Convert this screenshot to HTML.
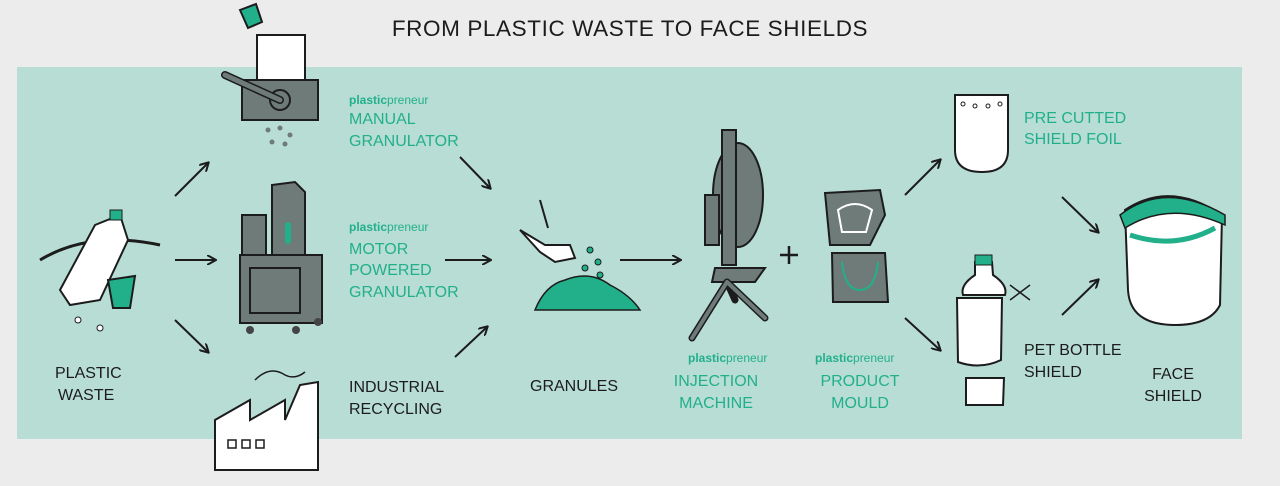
<!DOCTYPE html>
<html><head><meta charset="utf-8"><style>
html,body{margin:0;padding:0;background:#ececec;}
svg{display:block}
text{font-family:"Liberation Sans",sans-serif;}
.k{fill:#1c1c1c;font-size:16px}
.g{fill:#22b08a;font-size:16px}
.s{fill:#22b08a;font-size:12px}
</style></head><body>
<svg width="1280" height="486" viewBox="0 0 1280 486" xmlns="http://www.w3.org/2000/svg">
<defs><marker id="a" markerWidth="10" markerHeight="10" refX="8" refY="5" orient="auto" markerUnits="userSpaceOnUse"><path d="M0,0 L9,5 L0,10" fill="none" stroke="#1c1c1c" stroke-width="2"/></marker></defs>
<rect x="0" y="0" width="1280" height="486" fill="#ececec"/>
<rect x="17" y="67" width="1225" height="372" fill="#b8ddd5"/>
<text x="630" y="36" text-anchor="middle" style="font-size:22.5px;fill:#1c1c1c;letter-spacing:0.6px">FROM PLASTIC WASTE TO FACE SHIELDS</text>
<g stroke="#1c1c1c" stroke-width="2" fill="none" marker-end="url(#a)">
<line x1="175" y1="196" x2="208" y2="163"/><line x1="175" y1="260" x2="215" y2="260"/><line x1="175" y1="320" x2="208" y2="352"/>
<line x1="460" y1="157" x2="490" y2="188"/><line x1="445" y1="260" x2="490" y2="260"/><line x1="455" y1="357" x2="487" y2="327"/>
<line x1="620" y1="260" x2="680" y2="260"/>
<line x1="905" y1="195" x2="940" y2="160"/><line x1="905" y1="318" x2="940" y2="350"/>
<line x1="1062" y1="197" x2="1098" y2="232"/><line x1="1062" y1="315" x2="1098" y2="280"/>
</g>
<path d="M780,255 h18 M789,246 v18" stroke="#1c1c1c" stroke-width="2.5"/>
<path d="M40,260 Q90,230 160,245" stroke="#1c1c1c" stroke-width="3" fill="none"/>
<path d="M95,225 L120,215 L128,240 L100,300 L70,305 L60,290 Z" fill="#fff" stroke="#1c1c1c" stroke-width="2"/>
<rect x="110" y="210" width="12" height="10" fill="#22b08a" stroke="#1c1c1c"/>
<path d="M108,280 L135,276 L130,308 L113,308 Z" fill="#22b08a" stroke="#1c1c1c" stroke-width="2"/>
<circle cx="78" cy="320" r="3" fill="#fff" stroke="#1c1c1c"/><circle cx="100" cy="328" r="3" fill="#fff" stroke="#1c1c1c"/>
<path d="M240,10 L256,4 L262,22 L248,28 Z" fill="#22b08a" stroke="#1c1c1c" stroke-width="2"/>
<rect x="257" y="35" width="48" height="46" fill="#fff" stroke="#1c1c1c" stroke-width="2"/>
<rect x="242" y="80" width="76" height="40" fill="#6e7b78" stroke="#1c1c1c" stroke-width="2"/>
<circle cx="280" cy="100" r="10" fill="#6e7b78" stroke="#1c1c1c" stroke-width="2"/>
<path d="M225,75 L280,100" stroke="#1c1c1c" stroke-width="8" stroke-linecap="round"/><path d="M225,75 L280,100" stroke="#6e7b78" stroke-width="5" stroke-linecap="round"/>
<g fill="#6e7b78"><circle cx="268" cy="130" r="2.5"/><circle cx="280" cy="128" r="2.5"/><circle cx="290" cy="135" r="2.5"/><circle cx="272" cy="142" r="2.5"/><circle cx="285" cy="144" r="2.5"/></g>
<rect x="242" y="215" width="24" height="45" fill="#6e7b78" stroke="#1c1c1c" stroke-width="2"/>
<path d="M272,185 L295,182 L305,192 L305,260 L272,260 Z" fill="#6e7b78" stroke="#1c1c1c" stroke-width="2"/>
<rect x="285" y="222" width="6" height="22" rx="3" fill="#22b08a"/>
<rect x="240" y="255" width="82" height="68" fill="#6e7b78" stroke="#1c1c1c" stroke-width="2"/>
<rect x="250" y="268" width="50" height="45" fill="#6e7b78" stroke="#1c1c1c" stroke-width="2"/>
<g fill="#444"><circle cx="250" cy="330" r="4"/><circle cx="296" cy="330" r="4"/><circle cx="318" cy="322" r="4"/></g>
<path d="M215,470 L215,420 L250,400 L250,420 L285,400 L285,420 L300,385 L318,382 L318,470 Z" fill="#fff" stroke="#1c1c1c" stroke-width="2"/>
<path d="M255,380 Q270,365 285,375 Q295,380 305,372" stroke="#1c1c1c" stroke-width="1.5" fill="none"/>
<g fill="none" stroke="#1c1c1c" stroke-width="1.5"><rect x="228" y="440" width="8" height="8"/><rect x="242" y="440" width="8" height="8"/><rect x="256" y="440" width="8" height="8"/></g>
<path d="M520,230 L545,245 L570,245 L575,258 L555,262 L540,252 Z" fill="#fff" stroke="#1c1c1c" stroke-width="2"/>
<line x1="540" y1="200" x2="548" y2="228" stroke="#1c1c1c" stroke-width="2"/>
<path d="M535,310 Q545,285 565,280 Q590,270 610,285 Q630,295 640,310 Z" fill="#22b08a" stroke="#1c1c1c" stroke-width="1.5"/>
<g fill="#22b08a" stroke="#1c1c1c" stroke-width="1"><circle cx="590" cy="250" r="3"/><circle cx="598" cy="262" r="3"/><circle cx="585" cy="268" r="3"/><circle cx="600" cy="275" r="3"/></g>
<ellipse cx="738" cy="195" rx="25" ry="52" fill="#6e7b78" stroke="#1c1c1c" stroke-width="2"/>
<rect x="722" y="130" width="14" height="135" fill="#6e7b78" stroke="#1c1c1c" stroke-width="2"/>
<rect x="705" y="195" width="14" height="50" fill="#6e7b78" stroke="#1c1c1c" stroke-width="2"/>
<path d="M715,268 L765,268 L755,282 L712,282 Z" fill="#6e7b78" stroke="#1c1c1c" stroke-width="2"/>
<path d="M727,282 L692,338 M727,282 L765,318 M727,282 L735,300" stroke="#1c1c1c" stroke-width="7" stroke-linecap="round"/>
<path d="M727,282 L692,338 M727,282 L765,318" stroke="#6e7b78" stroke-width="4" stroke-linecap="round"/>
<path d="M825,193 L880,190 L885,215 L870,245 L830,245 Z" fill="#6e7b78" stroke="#1c1c1c" stroke-width="2"/>
<path d="M838,210 Q855,198 872,210 L866,232 L842,232 Z" fill="none" stroke="#fff" stroke-width="2"/>
<path d="M832,253 L885,253 L888,302 L833,302 Z" fill="#6e7b78" stroke="#1c1c1c" stroke-width="2"/>
<path d="M842,262 Q845,290 860,290 Q875,290 878,262" fill="none" stroke="#22b08a" stroke-width="2"/>
<path d="M955,95 L1008,95 L1008,150 Q1008,172 982,172 Q955,172 955,150 Z" fill="#fff" stroke="#1c1c1c" stroke-width="2"/>
<g fill="none" stroke="#1c1c1c"><circle cx="963" cy="104" r="2"/><circle cx="975" cy="106" r="2"/><circle cx="988" cy="106" r="2"/><circle cx="1000" cy="104" r="2"/></g>
<path d="M975,262 L992,262 L993,275 Q1008,285 1005,295 L963,295 Q960,285 975,275 Z" fill="#fff" stroke="#1c1c1c" stroke-width="2"/>
<rect x="975" y="255" width="17" height="10" fill="#22b08a" stroke="#1c1c1c"/>
<path d="M957,298 L1002,298 L1001,360 Q980,370 958,362 Z" fill="#fff" stroke="#1c1c1c" stroke-width="2"/>
<path d="M966,378 L1004,378 L1003,405 L966,405 Z" fill="#fff" stroke="#1c1c1c" stroke-width="2"/>
<path d="M1010,285 L1030,300 M1010,300 L1030,285" stroke="#1c1c1c" stroke-width="1.5"/>
<path d="M1125,210 Q1170,180 1222,215 L1220,305 Q1210,325 1175,325 Q1130,325 1128,290 Z" fill="#fff" stroke="#1c1c1c" stroke-width="2"/>
<path d="M1120,215 Q1165,180 1225,215 L1225,225 Q1170,200 1125,228 Z" fill="#22b08a" stroke="#1c1c1c" stroke-width="1.5"/>
<path d="M1130,235 Q1175,250 1215,228" stroke="#22b08a" stroke-width="5" fill="none"/>
<text class="k" x="55" y="378">PLASTIC</text><text class="k" x="58" y="400">WASTE</text>
<text class="s" x="349" y="104"><tspan font-weight="bold">plastic</tspan>preneur</text>
<text class="g" x="349" y="124">MANUAL</text><text class="g" x="349" y="146">GRANULATOR</text>
<text class="s" x="349" y="231"><tspan font-weight="bold">plastic</tspan>preneur</text>
<text class="g" x="349" y="254">MOTOR</text><text class="g" x="349" y="275">POWERED</text><text class="g" x="349" y="297">GRANULATOR</text>
<text class="k" x="349" y="392">INDUSTRIAL</text><text class="k" x="349" y="414">RECYCLING</text>
<text class="k" x="530" y="391">GRANULES</text>
<text class="s" x="688" y="362"><tspan font-weight="bold">plastic</tspan>preneur</text>
<text class="g" x="716" y="386" text-anchor="middle">INJECTION</text><text class="g" x="716" y="408" text-anchor="middle">MACHINE</text>
<text class="s" x="815" y="362"><tspan font-weight="bold">plastic</tspan>preneur</text>
<text class="g" x="860" y="386" text-anchor="middle">PRODUCT</text><text class="g" x="860" y="408" text-anchor="middle">MOULD</text>
<text class="g" x="1024" y="123">PRE CUTTED</text><text class="g" x="1024" y="144">SHIELD FOIL</text>
<text class="k" x="1024" y="355">PET BOTTLE</text><text class="k" x="1024" y="377">SHIELD</text>
<text class="k" x="1173" y="379" text-anchor="middle">FACE</text><text class="k" x="1173" y="401" text-anchor="middle">SHIELD</text>
</svg>
</body></html>
